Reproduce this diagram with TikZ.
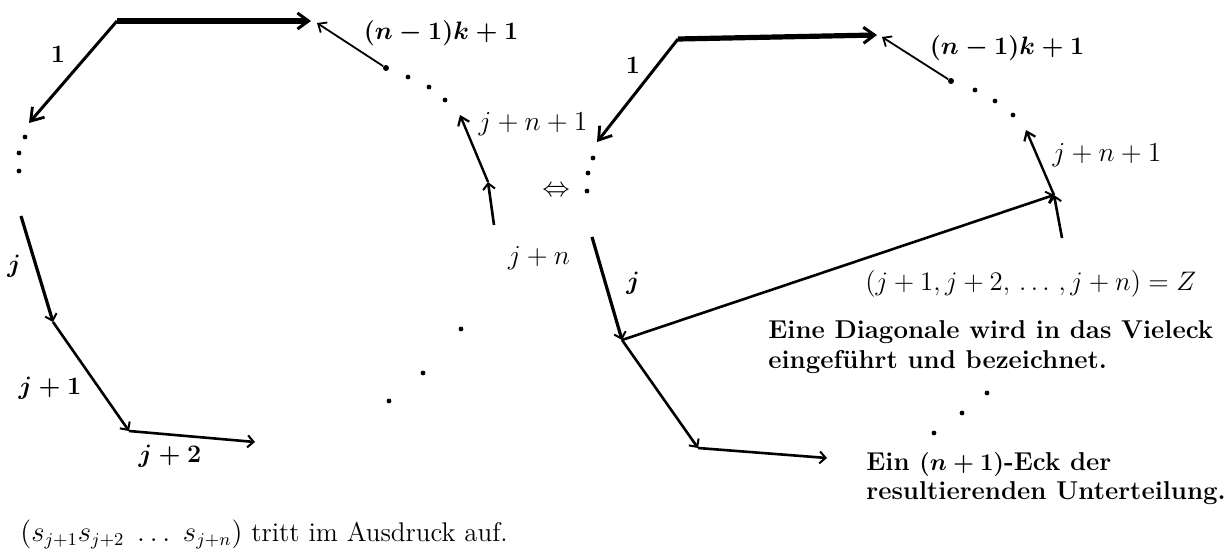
\documentclass[tikz,border=0pt]{standalone}
\usetikzlibrary{arrows.meta}
\begin{document}
\begin{tikzpicture}[x=0.5pt,y=-0.5pt,
  thickedge/.style={line width=2.6pt,-{Straight Barb[length=5.5pt,width=8pt,line width=1.5pt]}},
  edgeone/.style={line width=1.5pt,-{Straight Barb[length=6pt,width=8pt,line width=1.4pt]}},
  edgej/.style={line width=1.6pt,-{Straight Barb[length=3pt,width=6pt,line width=1pt]}},
  edgemid/.style={line width=1.3pt,-{Straight Barb[length=3pt,width=6pt,line width=1pt]}},
  edgetip/.style={line width=1.2pt,-{Straight Barb[length=4pt,width=6pt,line width=1.1pt]}},
  thinedge/.style={line width=0.9pt,-{Straight Barb[length=3.5pt,width=6pt,line width=0.9pt]}},
  pt/.style={circle,fill=black,inner sep=0pt,minimum size=2.4pt},
  bl/.style={inner sep=0pt,scale=1.05,font=\fontsize{13.2}{16}\selectfont\boldmath},
  rl/.style={inner sep=0pt,scale=0.955,font=\fontsize{13.5}{16}\selectfont},
  btext/.style={inner sep=0pt,anchor=base west,font=\fontsize{12.9}{15.5}\selectfont\bfseries\boldmath},
  rtext/.style={inner sep=0pt,anchor=base west,font=\fontsize{13.5}{16}\selectfont}]
\useasboundingbox (0,0) rectangle (1224,555);
% ---------------- left polygon ----------------
\coordinate (LA) at (117,21);
\coordinate (LB) at (311,21);
\coordinate (LC) at (29,123);
\node[pt] (Ld1) at (25,137) {};
\node[pt] (Ld2) at (19,153) {};
\node[pt] (Ld3) at (19,171) {};
\coordinate (LD) at (21,216);
\coordinate (LE) at (53,322);
\coordinate (LF) at (129,431);
\coordinate (LG) at (255,442);
\node[pt,minimum size=3pt] (LH) at (386,68) {};
\coordinate (LT) at (317,23);
\node[pt] (Le1) at (408,77) {};
\node[pt] (Le2) at (429,87) {};
\node[pt] (Le3) at (445,100) {};
\coordinate (LI) at (460,115);
\coordinate (LJ) at (488,182);
\coordinate (LK) at (494,225);
\node[pt] (Lf1) at (461,329) {};
\node[pt] (Lf2) at (423,373) {};
\node[pt] (Lf3) at (389,401) {};
\draw[thickedge] (LA) -- (LB);
\draw[edgeone] (LA) -- (LC);
\draw[edgej] (LD) -- (LE);
\draw[edgemid] (LE) -- (LF);
\draw[edgemid] (LF) -- (LG);
\draw[thinedge] (LH) -- (LT);
\draw[edgemid] (LK) -- (LJ);
\draw[edgetip] (LJ) -- (LI);
\node[bl] (L1) at (58,54) {$1$};
\node[bl] (Lnk) at (441,33) {$(n-1)k+1$};
\node[rl] (Ljn1) at (533,124) {$j+n+1$};
\node[rl] (Ljn) at (539,258) {$j+n$};
\node[bl] (Lj) at (14,266) {$j$};
\node[bl] (Lj1) at (50,388) {$j+1$};
\node[bl] (Lj2) at (170,456) {$j+2$};
\node[rl] (eqv) at (556,191) {$\Leftrightarrow$};
\node[rtext] (bottom) at (20,541) {$(s_{j+1}s_{j+2}\;\ldots\;s_{j+n})$ tritt im Ausdruck auf.};
% ---------------- right polygon ----------------
\coordinate (RA) at (678,39);
\coordinate (RB) at (877,35);
\coordinate (RC) at (597,142);
\node[pt] (Rd1) at (593,158) {};
\node[pt] (Rd2) at (588,173) {};
\node[pt] (Rd3) at (587,191) {};
\coordinate (RD) at (592,237);
\coordinate (RE) at (622,340);
\coordinate (RF) at (698,448);
\coordinate (RG) at (827,458);
\node[pt,minimum size=3pt] (RH) at (951,81) {};
\coordinate (RT) at (882,37);
\node[pt] (Re1) at (975,90) {};
\node[pt] (Re2) at (995,101) {};
\node[pt] (Re3) at (1013,115) {};
\coordinate (RI) at (1026,130);
\coordinate (RJ) at (1054,195);
\coordinate (RK) at (1062,238);
\node[pt] (Rf1) at (987,393) {};
\node[pt] (Rf2) at (962,413) {};
\node[pt] (Rf3) at (934,433) {};
\draw[thickedge] (RA) -- (RB);
\draw[edgeone] (RA) -- (RC);
\draw[edgej] (RD) -- (RE);
\draw[edgemid] (RE) -- (RF);
\draw[edgemid] (RF) -- (RG);
\draw[thinedge] (RH) -- (RT);
\draw[edgemid] (RK) -- (RJ);
\draw[edgetip] (RJ) -- (RI);
\draw[edgemid] (RE) -- (RJ);
\node[bl] (R1) at (633,65) {$1$};
\node[bl] (Rnk) at (1007,48) {$(n-1)k+1$};
\node[rl] (Rjn1) at (1107,155) {$j+n+1$};
\node[bl] (Rj) at (633,283) {$j$};
\node[rtext,scale=0.93] (Zlab) at (865,291) {$(j+1, j+2,\,\ldots\,, j+n)=Z$};
\node[btext] (T1) at (768,338) {Eine Diagonale wird in das Vieleck};
\node[btext] (T2) at (768,368) {eingeführt und bezeichnet.};
\node[btext] (T3) at (866,470) {Ein $(n+1)$-Eck der};
\node[btext] (T4) at (866,499) {resultierenden Unterteilung.};
\end{tikzpicture}
\end{document}
